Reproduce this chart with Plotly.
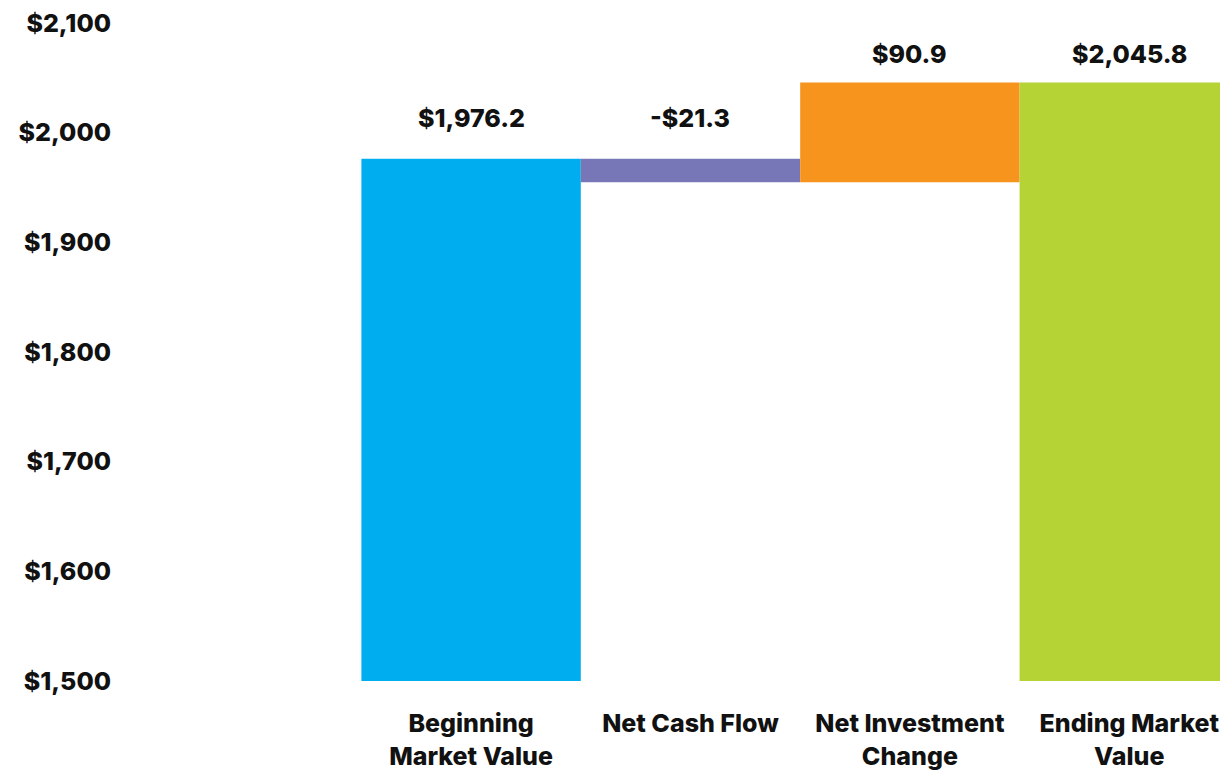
import plotly.graph_objects as go

categories = ["Beginning<br>Market Value", "Net Cash Flow", "Net Investment<br>Change", "Ending Market<br>Value"]
values = [1976.2, -21.3, 90.9, 2045.8]
measures = ["absolute", "relative", "relative", "total"]
value_labels = ["$1,976.2", "-$21.3", "$90.9", "$2,045.8"]
colors = ["#00AEEF", "#7777B8", "#F7941E", "#B5D334"]
tick_vals = [1500, 1600, 1700, 1800, 1900, 2000, 2100]
tick_text = ["$1,500", "$1,600", "$1,700", "$1,800", "$1,900", "$2,000", "$2,100"]

bases, heights, tops = [], [], []
running = 0.0
for v, m in zip(values, measures):
    if m == "absolute":
        running = v
        bases.append(0); heights.append(v); tops.append(v)
    elif m == "total":
        bases.append(0); heights.append(running); tops.append(running)
    else:
        start = running
        running = running + v
        bases.append(min(start, running)); heights.append(abs(v)); tops.append(max(start, running))

xs = list(range(len(categories)))
FONT = "Inter"

fig = go.Figure(go.Bar(
    x=xs, y=heights, base=bases, width=1.0,
    marker=dict(color=colors, line=dict(width=0)),
    hoverinfo="skip",
))

label_shifts = [24, 24, 11, 11]
for x, t, lab, s in zip(xs, tops, value_labels, label_shifts):
    fig.add_annotation(x=x, y=t, text=lab, showarrow=False, yanchor="bottom",
                       yshift=s, font=dict(family=FONT, size=25, color="#111111", weight=800))

fig.update_layout(
    width=1220, height=766,
    margin=dict(l=134, r=0, t=12, b=93),
    plot_bgcolor="white", paper_bgcolor="white",
    showlegend=False,
    font=dict(family=FONT, color="#111111"),
    xaxis=dict(range=[-1.5, 3.45], tickmode="array", tickvals=xs, ticktext=categories,
               showgrid=False, zeroline=False, showline=False, ticks="",
               tickfont=dict(family=FONT, size=25, color="#111111", weight=800),
               ticklabelstandoff=25, ticklabeloverflow="allow"),
    yaxis=dict(range=[1500, 2100], tickmode="array", tickvals=tick_vals, ticktext=tick_text,
               showgrid=False, zeroline=False, showline=False, ticks="",
               tickfont=dict(family=FONT, size=25, color="#111111", weight=800),
               ticklabelstandoff=30, ticklabeloverflow="allow"),
)

fig.write_html("out.html")
